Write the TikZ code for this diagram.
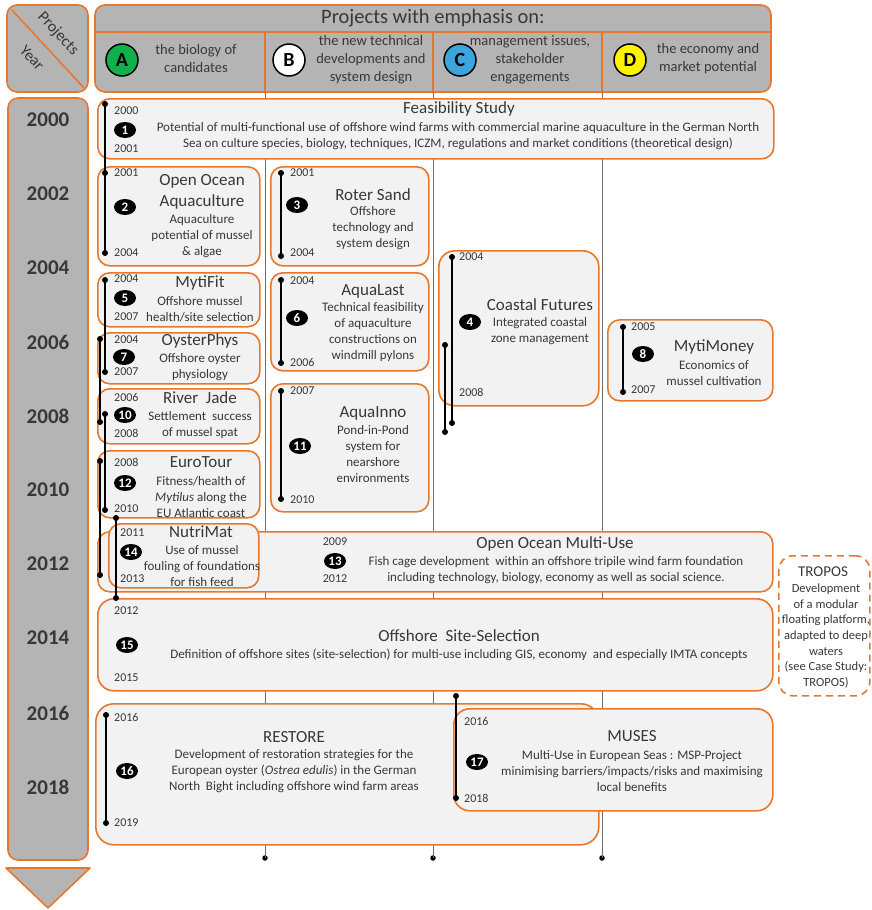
\documentclass[tikz,border=0pt]{standalone}
\usepackage{fontspec}
\setmainfont{Carlito}
\usetikzlibrary{shapes.geometric}
\definecolor{orng}{HTML}{E8772E}
\definecolor{hdr}{HTML}{B4B4B4}
\definecolor{boxf}{HTML}{F2F2F2}
\definecolor{txt}{HTML}{383838}
\definecolor{cgreen}{HTML}{12B04B}
\definecolor{cblue}{HTML}{3DA5DD}
\definecolor{cyellow}{HTML}{FFF200}
\definecolor{colline}{HTML}{6E6E6E}
\newcommand\mytl[4]{\node[dot] (#1a) at (#2,#3) {}; \node[dot] (#1b) at (#2,#4) {}; \draw[tl] (#1a.center) -- (#1b.center);}
\begin{document}
\begin{tikzpicture}[x=1pt,y=-1pt,
 proj/.style={draw=orng,line width=1.6pt,fill=boxf,rounded corners=12pt,anchor=north west,inner sep=0pt},
 hbox/.style={draw=orng,line width=1.6pt,fill=hdr,rounded corners=10pt},
 badge/.style={ellipse,fill=black,text=white,inner sep=0pt,minimum width=22pt,minimum height=16pt,font=\fontsize{13}{13}\selectfont\bfseries},
 letter/.style={circle,draw=black,line width=1.5pt,inner sep=0pt,minimum size=32pt,font=\fontsize{20}{20}\selectfont\bfseries},
 yr/.style={text=txt,font=\fontsize{12}{12}\selectfont,inner sep=0pt,anchor=west},
 yrc/.style={text=txt,font=\fontsize{12}{12}\selectfont,inner sep=0pt},
 ttl/.style={text=txt,font=\fontsize{17}{21}\selectfont,inner sep=0pt,align=center},
 dsc/.style={text=txt,font=\fontsize{13}{16}\selectfont,align=center,inner sep=0pt},
 sub/.style={text=txt,font=\fontsize{14.5}{18}\selectfont,align=center,inner sep=0pt},
 axis/.style={text=txt,font=\fontsize{21}{21}\selectfont\bfseries,inner sep=0pt},
 tl/.style={line width=1.8pt,black},
 dot/.style={circle,fill=black,inner sep=0pt,minimum size=6pt},
 cdot/.style={circle,fill=black,inner sep=0pt,minimum size=5.5pt},
 cl/.style={colline,line width=0.9pt}]
\useasboundingbox (0,0) rectangle (871,910);

% corner box
\draw[hbox] (7,5) rectangle (88,92);
\coordinate (dg1) at (12,10);
\coordinate (dg2) at (84,88);
\draw[orng,line width=1.6pt] (dg1) -- (dg2);
\node[text=txt,font=\fontsize{16}{16}\selectfont,rotate=-47,inner sep=0pt] (lproj) at (58,34) {Projects};
\node[text=txt,font=\fontsize{16}{16}\selectfont,rotate=-47,inner sep=0pt] (lyear) at (32,58) {Year};

% header
\draw[hbox] (95,5) rectangle (771,92);
\coordinate (hl1) at (95,32); \coordinate (hl2) at (771,32);
\draw[orng,line width=1.6pt] (hl1) -- (hl2);
\node[text=txt,font=\fontsize{20.5}{20.5}\selectfont,inner sep=0pt] (htitle) at (433,18) {Projects with emphasis on:};
\foreach \x/\n in {265/a,433/b,602/c}{
  \coordinate (hd\n1) at (\x,32); \coordinate (hd\n2) at (\x,92);
  \draw[orng,line width=1.6pt] (hd\n1) -- (hd\n2);
}
\node[letter,fill=cgreen] (cA) at (122,60) {A};
\node[letter,fill=white] (cB) at (289,60) {B};
\node[letter,fill=cblue] (cC) at (460,60) {C};
\node[letter,fill=cyellow] (cD) at (630,60) {D};
\node[sub] (sA) at (196,59) {the biology of\\candidates};
\node[sub] (sB) at (371,60) {the new technical\\developments and\\system design};
\node[sub] (sC) at (530,60) {management issues,\\stakeholder\\engagements};
\node[sub] (sD) at (708,59) {the economy and\\market potential};

% year axis
\draw[hbox] (8,98) rectangle (88,860);
\draw[orng,line width=1.6pt,fill=hdr,line join=round] (6,868) -- (90,868) -- (48,908) -- cycle;
\foreach \y/\t in {120/2000,194/2002,268/2004,342/2006,416/2008,490/2010,564/2012,638/2014,713/2016,787/2018}{
  \node[axis] (ax\t) at (48,\y) {\t};
}

% column lines
\foreach \x/\n in {265/a,433/b,602/c}{
  \coordinate (ct\n) at (\x,92);
  \node[cdot] (cb\n) at (\x,858) {};
  \draw[cl] (ct\n) -- (cb\n.center);
}

% 1 Feasibility
\node[proj,minimum width=676pt,minimum height=60pt] (p1) at (97,98) {};
\node[yr] (y1a) at (114,111) {2000};
\node[yr] (y1b) at (114,149) {2001};
\node[badge] (b1) at (125,130) {1};
\node[ttl] (t1) at (459,109) {Feasibility Study};
\node[dsc] (d1) at (458,136) {Potential of multi-functional use of offshore wind farms with commercial marine aquaculture in the German North\\Sea on culture species, biology, techniques, ICZM, regulations and market conditions (theoretical design)};

% 2 Open Ocean Aquaculture
\node[proj,minimum width=162pt,minimum height=99pt] (p2) at (97,166) {};
\node[yr] (y2a) at (114,173) {2001};
\node[yr] (y2b) at (114,253) {2004};
\node[badge] (b2) at (125,207) {2};
\node[ttl] (t2) at (202,192) {Open Ocean\\Aquaculture};
\node[dsc] (d2) at (202,236) {Aquaculture\\potential of mussel\\\& algae};

% 3 Roter Sand
\node[proj,minimum width=158pt,minimum height=99pt] (p3) at (270,166) {};
\node[yr] (y3a) at (290,173) {2001};
\node[yr] (y3b) at (290,253) {2004};
\node[badge] (b3) at (297,205) {3};
\node[ttl] (t3) at (373,195) {Roter Sand};
\node[dsc] (d3) at (373,228) {Offshore\\technology and\\system design};

% 4 Coastal Futures
\node[proj,minimum width=160pt,minimum height=155pt,rounded corners=16pt] (p4) at (438,250) {};
\node[yr] (y4a) at (459,257) {2004};
\node[yr] (y4b) at (459,392) {2008};
\node[badge] (b4) at (470,322) {4};
\node[ttl] (t4) at (540,305) {Coastal Futures};
\node[dsc] (d4) at (540,331) {Integrated coastal\\zone management};

% 5 MytiFit
\node[proj,minimum width=162pt,minimum height=54pt] (p5) at (97,272) {};
\node[yr] (y5a) at (114,279) {2004};
\node[yr] (y5b) at (114,317) {2007};
\node[badge] (b5) at (125,298) {5};
\node[ttl] (t5) at (200,283) {MytiFit};
\node[dsc] (d5) at (200,309.5) {Offshore mussel\\health/site selection};

% 6 AquaLast
\node[proj,minimum width=158pt,minimum height=98pt] (p6) at (270,272) {};
\node[yr] (y6a) at (290,281) {2004};
\node[yr] (y6b) at (290,362) {2006};
\node[badge] (b6) at (297,318) {6};
\node[ttl] (t6) at (373,291) {AquaLast};
\node[dsc] (d6) at (373,332) {Technical feasibility\\of aquaculture\\constructions on\\windmill pylons};

% 8 MytiMoney
\node[proj,minimum width=165pt,minimum height=81pt] (p8) at (607,319) {};
\node[yr] (y8a) at (631,327) {2005};
\node[yr] (y8b) at (631,390) {2007};
\node[badge] (b8) at (643,354) {8};
\node[ttl] (t8) at (714,347) {MytiMoney};
\node[dsc] (d8) at (714,373) {Economics of\\mussel cultivation};

% 7 OysterPhys
\node[proj,minimum width=162pt,minimum height=51pt] (p7) at (97,332) {};
\node[yr] (y7a) at (114,340) {2004};
\node[yr] (y7b) at (114,372) {2007};
\node[badge] (b7) at (124,357) {7};
\node[ttl] (t7) at (200,341) {OysterPhys};
\node[dsc] (d7) at (200,367) {Offshore oyster\\physiology};

% 10 River Jade
\node[proj,minimum width=162pt,minimum height=55pt] (p10) at (97,388) {};
\node[yr] (y10a) at (114,397) {2006};
\node[yr] (y10b) at (114,433) {2008};
\node[badge] (b10) at (125,415) {10};
\node[ttl] (t10) at (200,398) {River\ \ Jade};
\node[dsc] (d10) at (200,425) {Settlement\ \ success\\of mussel spat};

% 11 AquaInno
\node[proj,minimum width=158pt,minimum height=128pt] (p11) at (270,383) {};
\node[yr] (y11a) at (290,391) {2007};
\node[yr] (y11b) at (290,500) {2010};
\node[badge] (b11) at (300,446) {11};
\node[ttl] (t11) at (373,413) {AquaInno};
\node[dsc] (d11) at (373,454.5) {Pond-in-Pond\\system for\\nearshore\\environments};

% 12 EuroTour
\node[proj,minimum width=162pt,minimum height=67pt] (p12) at (97,450) {};
\node[yr] (y12a) at (114,462) {2008};
\node[yr] (y12b) at (114,509) {2010};
\node[badge] (b12) at (125,483) {12};
\node[ttl] (t12) at (201,462) {EuroTour};
\node[dsc] (d12) at (201,497) {Fitness/health of\\\textit{Mytilus} along the\\EU Atlantic coast};

% 13 Open Ocean Multi-Use
\node[proj,minimum width=675pt,minimum height=60pt] (p13) at (97,531) {};
\node[yrc] (y13a) at (335,542) {2009};
\node[yrc] (y13b) at (335,579) {2012};
\node[badge] (b13) at (335,561) {13};
\node[ttl] (t13) at (555,544) {Open Ocean Multi-Use};
\node[dsc] (d13) at (556,570) {Fish cage development\ \ within an offshore tripile wind farm foundation\\including technology, biology, economy as well as social science.};

% 14 NutriMat
\node[proj,minimum width=150pt,minimum height=64pt] (p14) at (108,523) {};
\node[yr] (y14a) at (120,533) {2011};
\node[yr] (y14b) at (120,579) {2013};
\node[badge] (b14) at (131,552) {14};
\node[ttl] (t14) at (201,532) {NutriMat};
\node[dsc] (d14) at (202,566) {Use of mussel\\fouling of foundations\\for fish feed};

% 15 Offshore Site-Selection
\node[proj,minimum width=675pt,minimum height=92pt,rounded corners=16pt] (p15) at (97,598) {};
\node[yr] (y15a) at (114,611) {2012};
\node[yr] (y15b) at (114,678) {2015};
\node[badge] (b15) at (127,645) {15};
\node[ttl] (t15) at (459,636) {Offshore\ \ Site-Selection};
\node[dsc] (d15) at (459,655) {Definition of offshore sites (site-selection) for multi-use including GIS, economy\ \ and especially IMTA concepts};

% TROPOS
\node[draw=orng,line width=1.6pt,dash pattern=on 7pt off 5pt,rounded corners=14pt,minimum width=91pt,minimum height=140pt,anchor=north west,inner sep=0pt] (ptr) at (778,555) {};
\node[ttl,font=\fontsize{15}{15}\selectfont] (ttr) at (823,572) {TROPOS};
\node[dsc,font=\fontsize{12.5}{15.6}\selectfont] (dtr) at (826,636) {Development\\of a modular\\floating platform,\\adapted to deep\\waters\\(see Case Study:\\TROPOS)};

% 16 RESTORE
\node[proj,minimum width=503pt,minimum height=141pt,rounded corners=18pt] (p16) at (95,703) {};
\node[yr] (y16a) at (114,717) {2016};
\node[yr] (y16b) at (114,823) {2019};
\node[badge] (b16) at (127,771) {16};
\node[ttl] (t16) at (294,737) {RESTORE};
\node[dsc] (d16) at (294,771) {Development of restoration strategies for the\\European oyster (\textit{Ostrea edulis}) in the German\\North\ \ Bight including offshore wind farm areas};

% 17 MUSES
\node[proj,minimum width=319pt,minimum height=102pt,rounded corners=16pt] (p17) at (453,708) {};
\node[yr] (y17a) at (464,721) {2016};
\node[yr] (y17b) at (464,798) {2018};
\node[badge] (b17) at (477,762) {17};
\node[ttl] (t17) at (632,736) {MUSES};
\node[dsc] (d17) at (632,771) {Multi-Use in European Seas : MSP-Project\\minimising barriers/impacts/risks and maximising\\local benefits};

% timelines
\mytl{la}{105}{104}{253}
\node[dot] (lam) at (105,173) {};
\mytl{lb}{281}{173}{256}
\mytl{lc}{105}{280}{372}
\mytl{ld}{100}{339}{422}
\mytl{le}{105}{414}{510}
\mytl{lf}{100}{461}{575}
\mytl{lg}{116}{518}{598}
\mytl{lh}{281}{391}{499}
\mytl{li}{281}{280}{363}
\mytl{lj}{452}{257}{423}
\mytl{lk}{445}{345}{432}
\mytl{ll}{623}{327}{392}
\mytl{lm}{456}{696}{798}
\mytl{ln}{106}{715}{823}
\end{tikzpicture}
\end{document}
